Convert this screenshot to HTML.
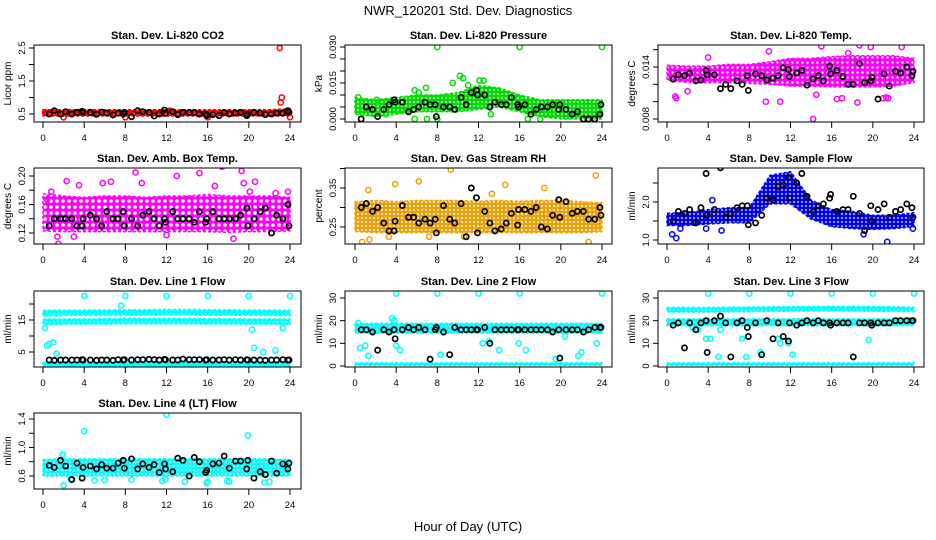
<!DOCTYPE html>
<html><head><meta charset="utf-8"><style>
html,body{margin:0;padding:0;background:#fff}
svg{display:block;font-family:"Liberation Sans",sans-serif}
</style></head><body>
<svg id="c" width="936" height="540" viewBox="0 0 936 540">
<text x="468" y="15" text-anchor="middle" font-size="13">NWR_120201  Std. Dev. Diagnostics</text>
<text x="468" y="531" text-anchor="middle" font-size="13">Hour of Day (UTC)</text>
</svg>
<script>
var bandHours=[0,2,4,6,8,10,12,14,16,18,20,22,24];
var blkHours=[0.6,1.1,1.7,2.2,2.8,3.3,3.8,3.9,4.6,5.2,5.7,6.2,6.8,7.3,7.8,7.9,8.6,9.2,9.7,10.3,10.8,11.3,11.8,11.9,12.6,13.1,13.6,14.2,14.7,15.2,15.8,15.9,16.5,17.1,17.6,18.1,18.7,19.2,19.8,19.9,20.5,21.1,21.6,22.2,22.7,23.3,23.8,23.9];
var xTicks=[0,4,8,12,16,20,24];
// CO2
var co2Lo=[0.44,0.44,0.44,0.44,0.44,0.44,0.44,0.44,0.44,0.44,0.44,0.44,0.44];
var co2Hi=[0.63,0.63,0.63,0.63,0.63,0.63,0.63,0.63,0.63,0.63,0.63,0.63,0.66];
var co2OutX=[23,23.2,23.1,24,2,8,16,0.2,12.3];
var co2OutY=[2.5,1.0,0.85,0.4,0.4,0.4,0.4,0.55,0.6];
var co2Blk=[0.5,0.6,0.5,0.57,0.5,0.55,0.58,0.55,0.55,0.49,0.56,0.53,0.47,0.53,0.5,0.55,0.42,0.6,0.57,0.55,0.44,0.5,0.62,0.52,0.57,0.48,0.55,0.55,0.55,0.5,0.5,0.45,0.48,0.45,0.55,0.5,0.53,0.55,0.45,0.5,0.55,0.53,0.48,0.5,0.53,0.53,0.6,0.55];
// Pressure
var prLo=[0.002,0.001,0.002,0.003,0.003,0.003,0.004,0.005,0.003,0.001,0.0,0.0,0.0];
var prHi=[0.009,0.008,0.009,0.010,0.010,0.011,0.014,0.013,0.010,0.008,0.008,0.008,0.008];
var prOutX=[8,16,24,10.2,10.5,12.1,9.5,5.8,6.9,5.8,7,13.2,8,0.3,2.1,3,6.2,11,12.5,16.8,18];
var prOutY=[0.030,0.030,0.030,0.018,0.017,0.016,0.015,0.012,0.013,0,0,0.002,0,0.009,0.008,0.002,0.011,0.014,0.016,0.0,0.0];
var prBlk=[0,0.005,0.004,0.001,0.004,0.006,0.008,0.007,0.007,0.003,0.004,0.005,0.007,0.006,0.006,0.001,0.005,0.005,0.004,0.009,0.006,0.011,0.012,0.010,0.010,0.005,0.007,0.006,0.006,0.009,0.006,0.005,0.006,0.002,0.004,0.005,0.005,0.006,0.004,0.006,0.004,0.002,0.003,0.000,0.000,0.000,0.002,0.006];
// Li-820 Temp
var tpLo=[0.0125,0.0122,0.0122,0.0122,0.0121,0.0120,0.0118,0.0118,0.0117,0.0117,0.0117,0.0118,0.0122];
var tpHi=[0.0142,0.0141,0.0141,0.0143,0.0143,0.0146,0.0150,0.0150,0.0152,0.0153,0.0153,0.0153,0.0150];
var tpOutX=[0.8,0.9,2,9.6,11,14.2,14.5,16.5,17,18.5,18.7,21,21.3,21.5,19.8,9.9,15,17.6,22.8,20.9,4];
var tpOutY=[0.0106,0.0104,0.0112,0.0100,0.0100,0.0080,0.0108,0.0103,0.0104,0.0099,0.0165,0.0104,0.0105,0.0104,0.0163,0.0158,0.0164,0.0156,0.0163,0.0172,0.0151];
var tpBlk=[0.0126,0.0131,0.0130,0.0133,0.0124,0.0125,0.0136,0.0131,0.0131,0.0115,0.0120,0.0115,0.0124,0.0120,0.0130,0.0113,0.0132,0.0130,0.0125,0.0127,0.0130,0.0139,0.0137,0.0129,0.0133,0.0136,0.0119,0.0126,0.0130,0.0124,0.0141,0.0132,0.0136,0.0129,0.0120,0.0120,0.0144,0.0122,0.0124,0.0128,0.0103,0.0132,0.0118,0.0135,0.0133,0.0140,0.0130,0.0135];
// Amb box temp
var abLo=[0.123,0.122,0.122,0.122,0.122,0.122,0.122,0.122,0.122,0.121,0.122,0.122,0.123];
var abHi=[0.175,0.172,0.170,0.172,0.172,0.170,0.172,0.172,0.174,0.172,0.172,0.172,0.170];
var abOutX=[0.4,0.8,1.4,2.3,3.5,5.8,6.6,9,9.6,10,13,15.2,16.7,17.4,19.3,19.5,20.1,20.6,22.6,23.8,1.5,3,12,18.5];
var abOutY=[0.167,0.178,0.115,0.193,0.187,0.190,0.192,0.205,0.190,0.100,0.200,0.204,0.186,0.213,0.207,0.190,0.178,0.192,0.176,0.178,0.105,0.115,0.117,0.112];
var abBlk=[0.13,0.14,0.14,0.14,0.14,0.13,0.13,0.14,0.145,0.14,0.13,0.15,0.14,0.14,0.15,0.13,0.14,0.13,0.145,0.15,0.14,0.13,0.14,0.135,0.15,0.14,0.14,0.14,0.135,0.15,0.135,0.14,0.15,0.14,0.14,0.14,0.14,0.145,0.155,0.13,0.14,0.15,0.155,0.12,0.145,0.14,0.16,0.13];
// Gas stream RH
var rhLo=[0.238,0.236,0.236,0.236,0.236,0.236,0.236,0.236,0.236,0.236,0.236,0.236,0.238];
var rhHi=[0.315,0.318,0.315,0.318,0.318,0.318,0.316,0.318,0.316,0.318,0.318,0.315,0.312];
var rhOutX=[0.7,1.3,3.9,6.2,9.3,14.6,23.4,18.4,13.3,22.7,1.4,3.3,10.6,7.2];
var rhOutY=[0.212,0.345,0.360,0.367,0.397,0.358,0.382,0.350,0.335,0.212,0.218,0.225,0.225,0.225];
var rhBlk=[0.30,0.31,0.29,0.30,0.26,0.24,0.24,0.265,0.305,0.275,0.275,0.26,0.27,0.26,0.27,0.235,0.305,0.27,0.26,0.31,0.225,0.35,0.325,0.235,0.29,0.26,0.24,0.245,0.26,0.285,0.255,0.295,0.295,0.29,0.30,0.25,0.245,0.28,0.32,0.275,0.315,0.285,0.29,0.29,0.27,0.27,0.30,0.28];
// Sample flow
var sfLo=[1.38,1.38,1.42,1.45,1.45,1.95,1.95,1.55,1.35,1.3,1.28,1.3,1.35];
var sfHi=[1.7,1.72,1.8,1.85,1.85,2.7,2.8,2.05,1.8,1.75,1.65,1.65,1.72];
var sfOutX=[0.5,0.9,1.3,3.8,5.3,10.5,10.9,12.3,21.4,23.9,19.1,4.4];
var sfOutY=[1.15,1.05,1.3,1.3,1.25,3.0,3.0,3.0,0.95,1.3,1.15,2.05];
var sfBlk=[1.5,1.75,1.7,1.8,1.45,1.85,2.75,1.65,1.8,2.9,1.6,1.7,1.85,1.9,1.9,1.4,1.45,1.65,2.1,2.05,2.4,2.45,2.65,2.1,2.5,2.75,2.15,1.75,1.9,1.95,2.1,2.2,1.75,1.8,1.8,2.15,1.7,1.25,1.9,1.5,1.8,1.95,1.6,1.75,1.8,1.95,1.85,1.6];
// Line 1 flow
var l1aLo=[16.2,16.4,16.4,16.4,16.4,16.5,16.6,16.6,16.5,16.5,16.5,16.4,16.4];
var l1aHi=[18.0,18.1,18.1,18.1,18.2,18.2,18.3,18.3,18.2,18.2,18.1,18.1,18.0];
var l1bLo=[13.6,13.7,13.7,13.7,13.8,13.8,13.8,13.8,13.7,13.7,13.7,13.7,13.6];
var l1bHi=[15.3,15.3,15.3,15.4,15.5,15.5,15.5,15.5,15.4,15.4,15.3,15.3,15.3];
var l1cLo=[0.5,0.5,0.5,0.5,0.5,0.5,0.5,0.5,0.5,0.5,0.5,0.5,0.5];
var l1cHi=[1.8,1.8,1.8,1.8,1.8,1.8,1.8,1.8,1.8,1.8,1.8,1.8,1.8];
var l1OutX=[4,8,12,16,20,24,0.2,0.4,0.6,1,1.3,20.3,20.5,21.4,22.6,23.3,7.6];
var l1OutY=[22.5,22.5,22.5,22.5,22.5,22.5,12.5,7,7.5,8,4.5,12,6.3,5,5.5,12.5,19.5];
var l1Blk=[2.5,2.4,2.5,2.5,2.5,2.5,2.6,2.5,2.5,2.4,2.5,2.5,2.4,2.6,2.5,2.6,2.5,2.6,2.6,2.7,2.6,2.5,2.7,2.6,2.5,2.5,2.8,2.6,2.6,2.6,2.5,2.6,2.5,2.5,2.6,2.5,2.6,2.5,2.6,2.5,2.5,2.5,2.4,2.5,2.5,2.6,2.5,2.5];
// Line 2 flow
var l2aLo=[14.5,14.5,14.5,14.5,14.5,14.5,14.5,14.5,14.5,14.5,14.5,14.5,14.5];
var l2aHi=[18.8,18.8,18.8,18.8,18.8,18.8,18.8,18.8,18.8,18.8,18.8,18.8,18.8];
var l2bLo=[0.3,0.3,0.3,0.3,0.3,0.3,0.3,0.3,0.3,0.3,0.3,0.3,0.3];
var l2bHi=[1.4,1.4,1.4,1.4,1.4,1.4,1.4,1.4,1.4,1.4,1.4,1.4,1.4];
var l2OutX=[4,8,12,16,24,0.3,0.5,1,1.3,3.6,3.8,4,4.4,12.4,13,14,15.9,16.6,19.5,20.4,21.7,22,23.5,8.3];
var l2OutY=[32,32,32,32,32,19,8,9,4.5,21,20,9,7,10,11,7,10,7,3,13,4.5,6,10,5];
var l2Blk=[16,16,15,7,16,15,16,12,16,17,16,17,16,3,16,17,15,5,17,16,16,16,16,16,17,10,16,16,16,16,16,16,16,16,16,16,16,15,16,3.5,16,16,16,15,16,17,17,17];
// Line 3 flow
var l3aLo=[23.8,23.8,23.8,23.9,24,24.1,24.2,24.3,24.3,24.3,24.2,24.1,24];
var l3aHi=[25.8,25.8,25.8,25.9,26,26.1,26.2,26.3,26.3,26.3,26.2,26.1,25.9];
var l3bLo=[17.8,17.8,17.8,17.8,17.8,17.8,17.8,17.8,17.8,17.8,17.8,17.8,17.9];
var l3bHi=[20.8,20.8,20.8,20.8,20.8,20.8,20.8,20.8,20.8,20.8,20.8,20.8,21.2];
var l3cLo=[0.3,0.3,0.3,0.3,0.3,0.3,0.3,0.3,0.3,0.3,0.3,0.3,0.3];
var l3cHi=[1.4,1.4,1.4,1.4,1.4,1.4,1.4,1.4,1.4,1.4,1.4,1.4,1.4];
var l3OutX=[4,8,12,16,20,24,3.8,4.2,5,5.2,7.3,7.7,9.1,10.8,11,11.8,12.2,19.6,3,2.5];
var l3OutY=[32,32,32,32,32,32,12,12,4,16,12,4,6,12,10,10,5,11.5,16,17];
var l3Blk=[18,19,8,19,16,19,20,6,20,22,19,4,19,20,17,13,19,5,20,12,19,13,11,19,18,19,20,19,20,19,19,18,19,19,19,4,19,19,19,18,19,19,19,20,20,20,20,20];
// Line 4 flow
var l4Lo=[0.6,0.6,0.6,0.6,0.6,0.6,0.6,0.6,0.6,0.6,0.6,0.6,0.6];
var l4Hi=[0.83,0.84,0.84,0.84,0.84,0.84,0.84,0.84,0.84,0.84,0.84,0.84,0.83];
var l4OutX=[4,12,19.9,1.9,2,5,8.6,11.6,11.9,13.8,15.9,16,17.9,18.1,21.5,22,2.7,6,3.8];
var l4OutY=[1.23,1.46,1.17,0.90,0.47,0.54,0.55,0.53,0.55,0.52,0.50,0.52,0.53,0.52,0.51,0.52,0.56,0.54,0.58];
var l4Blk=[0.75,0.72,0.82,0.74,0.55,0.78,0.57,0.72,0.74,0.7,0.76,0.71,0.71,0.78,0.82,0.71,0.84,0.70,0.77,0.72,0.76,0.65,0.77,0.7,0.66,0.85,0.82,0.6,0.86,0.8,0.65,0.68,0.77,0.78,0.88,0.71,0.81,0.81,0.7,0.82,0.57,0.66,0.62,0.81,0.64,0.77,0.7,0.78];

var NS='http://www.w3.org/2000/svg';
var svg=document.getElementById('c');
var defs=document.createElementNS(NS,'defs');svg.appendChild(defs);
function mk(tag,attrs,parent){var e=document.createElementNS(NS,tag);for(var k in attrs)e.setAttribute(k,attrs[k]);(parent||svg).appendChild(e);return e;}

var cols=[{l:34,r:301,x0:43,x24:290},{l:345,r:612,x0:355,x24:602},{l:658,r:924,x0:667,x24:914}];
var rows=[{t:45,b:122},{t:168,b:244},{t:291,b:367},{t:413,b:489}];

var panels=[
 {id:'co2',title:'Stan. Dev. Li-820 CO2',ylab:'Licor ppm',c:0,r:0,v1:0.5,p1:114,v2:2.5,p2:48,ticks:[0.5,1.0,1.5,2.0,2.5],labels:['0.5','','1.5','','2.5'],col:'#ff0000',hole:0.6,tile:4,bands:[[co2Lo,co2Hi]],ox:co2OutX,oy:co2OutY,blk:co2Blk},
 {id:'pressure',title:'Stan. Dev. Li-820 Pressure',ylab:'kPa',c:1,r:0,v1:0,p1:119,v2:0.03,p2:47,ticks:[0,0.005,0.01,0.015,0.02,0.025,0.03],labels:['0.000','','','0.015','','','0.030'],col:'#00dd00',hole:0.9,tile:4,bands:[[prLo,prHi]],ox:prOutX,oy:prOutY,blk:prBlk},
 {id:'li820-temp',title:'Stan. Dev. Li-820 Temp.',ylab:'degrees C',c:2,r:0,v1:0.008,p1:119,v2:0.014,p2:67,ticks:[0.008,0.010,0.012,0.014,0.016,0.018],labels:['0.008','','','0.014','',''],col:'#ff00ff',hole:1.2,tile:5,bands:[[tpLo,tpHi]],ox:tpOutX,oy:tpOutY,blk:tpBlk},
 {id:'amb-box-temp',title:'Stan. Dev. Amb. Box Temp.',ylab:'degrees C',c:0,r:1,v1:0.12,p1:233,v2:0.20,p2:176,ticks:[0.12,0.14,0.16,0.18,0.20],labels:['0.12','','0.16','','0.20'],col:'#ff00ff',hole:1.8,tile:6,bands:[[abLo,abHi]],ox:abOutX,oy:abOutY,blk:abBlk},
 {id:'gas-stream-rh',title:'Stan. Dev. Gas Stream RH',ylab:'percent',c:1,r:1,v1:0.25,p1:227,v2:0.35,p2:188,ticks:[0.25,0.30,0.35,0.40],labels:['0.25','','0.35',''],col:'#f0a000',hole:1.0,tile:4,bands:[[rhLo,rhHi]],ox:rhOutX,oy:rhOutY,blk:rhBlk},
 {id:'sample-flow',title:'Stan. Dev. Sample Flow',ylab:'ml/min',c:2,r:1,v1:1.0,p1:240,v2:2.0,p2:202,ticks:[1.0,1.5,2.0,2.5],labels:['1.0','','2.0',''],col:'#0000ff',hole:0.9,tile:4,bands:[[sfLo,sfHi]],ox:sfOutX,oy:sfOutY,blk:sfBlk},
 {id:'line1-flow',title:'Stan. Dev. Line 1 Flow',ylab:'ml/min',c:0,r:2,v1:5,p1:352,v2:15,p2:320,ticks:[5,10,15,20],labels:['5','','15',''],col:'#00ffff',hole:0.6,tile:4,bands:[[l1aLo,l1aHi],[l1bLo,l1bHi],[l1cLo,l1cHi]],ox:l1OutX,oy:l1OutY,blk:l1Blk},
 {id:'line2-flow',title:'Stan. Dev. Line 2 Flow',ylab:'ml/min',c:1,r:2,v1:0,p1:366,v2:30,p2:298,ticks:[0,10,20,30],labels:['0','10','20','30'],col:'#00ffff',hole:0.6,tile:4,bands:[[l2aLo,l2aHi],[l2bLo,l2bHi]],ox:l2OutX,oy:l2OutY,blk:l2Blk},
 {id:'line3-flow',title:'Stan. Dev. Line 3 Flow',ylab:'ml/min',c:2,r:2,v1:0,p1:366,v2:30,p2:298,ticks:[0,10,20,30],labels:['0','10','20','30'],col:'#00ffff',hole:0.6,tile:4,bands:[[l3aLo,l3aHi],[l3bLo,l3bHi],[l3cLo,l3cHi]],ox:l3OutX,oy:l3OutY,blk:l3Blk},
 {id:'line4-flow',title:'Stan. Dev. Line 4 (LT) Flow',ylab:'ml/min',c:0,r:3,v1:0.6,p1:476,v2:1.4,p2:419,ticks:[0.6,0.8,1.0,1.2,1.4],labels:['0.6','','1.0','','1.4'],col:'#00ffff',hole:0.9,tile:4,bands:[[l4Lo,l4Hi]],ox:l4OutX,oy:l4OutY,blk:l4Blk}
];

panels.forEach(function(p){
  var C=cols[p.c],R=rows[p.r];
  var xs=function(h){return C.x0+h/24*(C.x24-C.x0);};
  var ys=function(v){return p.p1+(v-p.v1)*(p.p2-p.p1)/(p.v2-p.v1);};
  var pat=mk('pattern',{id:'pat-'+p.id,width:p.tile,height:p.tile,patternUnits:'userSpaceOnUse'},defs);
  mk('rect',{x:0,y:0,width:p.tile,height:p.tile,fill:p.col},pat);
  mk('circle',{cx:p.tile/2,cy:p.tile/2,r:p.hole,fill:'#fff'},pat);
  var g=mk('g',{});
  
  
  var t=mk('text',{x:(C.l+C.r)/2,y:R.t-6,'text-anchor':'middle','font-size':'11','font-weight':'bold'},g);
  t.textContent=p.title;
  
  
  var cp=mk('clipPath',{id:'clip-'+p.id},g);
  mk('rect',{x:C.l,y:R.t,width:C.r-C.l,height:R.b-R.t},cp);
  var pg=mk('g',{'clip-path':'url(#clip-'+p.id+')'},g);
  p.bands.forEach(function(b,bi){
    var pts=[];
    for(var i=0;i<bandHours.length;i++)pts.push(xs(bandHours[i])+','+ys(b[1][i]));
    for(var i=bandHours.length-1;i>=0;i--)pts.push(xs(bandHours[i])+','+ys(b[0][i]));
    var poly=mk('polygon',{points:pts.join(' '),fill:'url(#pat-'+p.id+')',stroke:p.col,'stroke-width':1.5,'stroke-dasharray':'3 2','stroke-linejoin':'round'},pg);
    
    
  });
  for(var i=0;i<p.ox.length;i++){
    var oc=mk('circle',{cx:xs(p.ox[i]),cy:ys(p.oy[i]),r:2.6,fill:'none',stroke:p.col,'stroke-width':1.5},pg);
    
    
  }
  for(var i=0;i<blkHours.length;i++){
    var bc=mk('circle',{cx:xs(blkHours[i]),cy:ys(p.blk[i]),r:2.6,fill:'none',stroke:'#000','stroke-width':1.7},pg);
    
    
  }
  var box=mk('rect',{x:C.l,y:R.t,width:C.r-C.l,height:R.b-R.t,fill:'none',stroke:'#000','stroke-width':1},g);
  
  
  xTicks.forEach(function(h){
    mk('line',{x1:xs(h),x2:xs(h),y1:R.b,y2:R.b+6,stroke:'#000'},g);
    var tl=mk('text',{x:xs(h),y:R.b+19,'text-anchor':'middle','font-size':'9.5'},g);
    tl.textContent=h;
    
    
  });
  p.ticks.forEach(function(v,i){
    var y=ys(v);
    if(y<R.t-2||y>R.b+2)return;
    mk('line',{x1:C.l-5,x2:C.l,y1:y,y2:y,stroke:'#000'},g);
    if(p.labels[i]){
      var yl=mk('text',{x:0,y:0,'text-anchor':'middle','font-size':'9.5',transform:'translate('+(C.l-9)+','+y+') rotate(-90)'},g);
      yl.textContent=p.labels[i];
      
      
    }
  });
  var yt=mk('text',{x:0,y:0,'text-anchor':'middle','font-size':'10',transform:'translate('+(C.l-23)+','+((R.t+R.b)/2)+') rotate(-90)'},g);
  yt.textContent=p.ylab;
  
  
});
</script>
</body></html>
